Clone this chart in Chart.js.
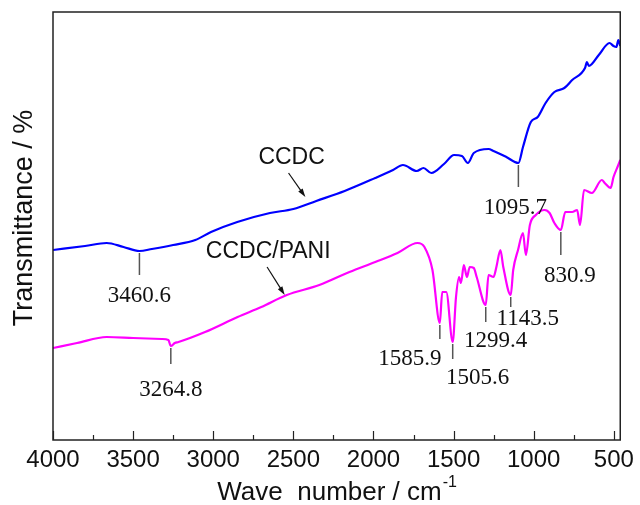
<!DOCTYPE html>
<html>
<head>
<meta charset="utf-8">
<script src="https://cdn.jsdelivr.net/npm/chart.js@4.4.0/dist/chart.umd.min.js"></script>
<style>
  body { margin: 0; background: #fff; }
</style>
</head>
<body>
<canvas id="ftir-chart" width="640" height="505"></canvas>
<script>
// spectra (wave number, transmittance in arbitrary units)
const ccdcWave = [4000, 3800, 3665, 3560, 3460.6, 3383, 3250, 3112, 3014, 2850, 2646, 2500, 2357, 2180, 1989, 1878, 1816, 1730, 1688, 1639, 1560, 1497, 1448, 1411, 1374, 1282, 1251, 1171, 1095.7, 1067, 1018, 975, 926, 871, 809, 760, 680, 668, 656, 594, 527, 502, 484, 472, 460];
const ccdcT = [190, 194, 197, 193, 189, 191, 195, 200, 208, 218, 227, 231, 239, 249, 262, 270, 275, 269, 272, 267, 276, 285, 284, 277, 287, 291, 289, 283, 277, 293, 318, 323, 337, 348, 352, 360, 372, 378, 374, 385, 397, 394, 393, 400, 394];

const paniWave = [4000, 3850, 3665, 3500, 3321, 3280, 3264.8, 3240, 3217, 3051, 2848, 2700, 2541, 2338, 2150, 1989, 1850, 1725, 1682, 1632, 1585.9, 1571, 1546, 1505.6, 1485, 1466, 1454, 1436, 1417, 1399, 1374, 1356, 1299.4, 1282, 1251, 1233, 1208, 1190, 1143.5, 1128, 1098, 1067, 1049, 1024, 987, 932, 901, 871, 830.9, 803, 760, 729, 711, 686, 637, 575, 557, 520, 502, 472, 460];
const paniT = [92, 97, 103, 102, 101, 100, 94, 97, 98, 108, 123, 133, 145, 155, 168, 178, 187, 197, 193, 170, 117, 148, 148, 98, 143, 163, 157, 175, 163, 173, 172, 163, 135, 165, 163, 173, 190, 173, 145, 170, 190, 207, 185, 215, 225, 230, 227, 217, 210, 228, 228, 230, 215, 250, 247, 260, 257, 252, 263, 275, 280];

const seriesNames = ['CCDC', 'CCDC/PANI'];
const majorTicks = [4000, 3500, 3000, 2500, 2000, 1500, 1000, 500];
const minorTicks = [3750, 3250, 2750, 2250, 1750, 1250, 750];

// marked peaks: which series, wave number, label
const peakSeries = [0, 1, 0, 1, 1, 1, 1, 1];
const peakWaves = [3460.6, 3264.8, 1095.7, 830.9, 1143.5, 1299.4, 1585.9, 1505.6];
const peakTexts = ['3460.6', '3264.8', '1095.7', '830.9', '1143.5', '1299.4', '1585.9', '1505.6'];

// leader length, label shift, label baseline below leader (px)
const peakLayout = [
  { len: 22, dx: 0, dy: 27 },
  { len: 16, dx: 0, dy: 32 },
  { len: 22, dx: -3, dy: 27 },
  { len: 23, dx: 9, dy: 27 },
  { len: 10, dx: 17, dy: 18 },
  { len: 15, dx: 10, dy: 25 },
  { len: 14, dx: -30, dy: 26 },
  { len: 15, dx: 25, dy: 25 }
];

// series name positions and arrows, in data units
const nameLayout = [
  { text: [2511, 282], from: [2530, 267], to: [2425, 243] },
  { text: [2657, 188], from: [2664, 173], to: [2554, 145] }
];

const SANS = '"Liberation Sans", Arial, sans-serif';
const SERIF = '"Liberation Serif", "Times New Roman", serif';

function toPoints(xs, ys) {
  return xs.map((x, i) => ({ x: x, y: ys[i] }));
}

const seriesWave = [ccdcWave, paniWave];
const seriesT = [ccdcT, paniT];

function drawArrow(ctx, x1, y1, x2, y2) {
  const ang = Math.atan2(y2 - y1, x2 - x1);
  const head = 9;
  ctx.beginPath();
  ctx.moveTo(x1, y1);
  ctx.lineTo(x2 - Math.cos(ang) * head * 0.8, y2 - Math.sin(ang) * head * 0.8);
  ctx.stroke();
  ctx.beginPath();
  ctx.moveTo(x2, y2);
  ctx.lineTo(x2 - head * Math.cos(ang - 0.3), y2 - head * Math.sin(ang - 0.3));
  ctx.lineTo(x2 - head * Math.cos(ang + 0.3), y2 - head * Math.sin(ang + 0.3));
  ctx.closePath();
  ctx.fill();
}

const decorations = {
  id: 'decorations',
  afterDraw(chart) {
    const ctx = chart.ctx;
    const area = chart.chartArea;
    const xs = chart.scales.x;
    const ys = chart.scales.y;
    ctx.save();

    // frame
    ctx.strokeStyle = '#222';
    ctx.lineWidth = 1.5;
    ctx.strokeRect(area.left, area.top, area.right - area.left, area.bottom - area.top);

    // inward ticks
    ctx.lineWidth = 1.2;
    ctx.beginPath();
    majorTicks.forEach(v => {
      const px = Math.round(xs.getPixelForValue(v)) + 0.5;
      ctx.moveTo(px, area.bottom);
      ctx.lineTo(px, area.bottom - 9);
    });
    minorTicks.forEach(v => {
      const px = Math.round(xs.getPixelForValue(v)) + 0.5;
      ctx.moveTo(px, area.bottom);
      ctx.lineTo(px, area.bottom - 5);
    });
    ctx.stroke();

    // peak leaders and labels
    ctx.font = '23px ' + SERIF;
    ctx.textAlign = 'center';
    ctx.textBaseline = 'alphabetic';
    peakWaves.forEach((w, i) => {
      const s = peakSeries[i];
      const idx = seriesWave[s].indexOf(w);
      const px = xs.getPixelForValue(w);
      const py = ys.getPixelForValue(seriesT[s][idx]) + 2;
      const lay = peakLayout[i];
      ctx.strokeStyle = '#555';
      ctx.lineWidth = 1.5;
      ctx.beginPath();
      ctx.moveTo(px, py);
      ctx.lineTo(px, py + lay.len);
      ctx.stroke();
      ctx.fillStyle = '#111';
      ctx.fillText(peakTexts[i], px + lay.dx, py + lay.len + lay.dy);
    });

    // series names with arrows
    ctx.font = '23px ' + SANS;
    ctx.textBaseline = 'middle';
    ctx.strokeStyle = '#111';
    ctx.fillStyle = '#111';
    ctx.lineWidth = 1.2;
    nameLayout.forEach((n, i) => {
      ctx.fillText(seriesNames[i], xs.getPixelForValue(n.text[0]), ys.getPixelForValue(n.text[1]));
      drawArrow(ctx,
        xs.getPixelForValue(n.from[0]), ys.getPixelForValue(n.from[1]),
        xs.getPixelForValue(n.to[0]), ys.getPixelForValue(n.to[1]));
    });

    // axis titles
    ctx.fillStyle = '#111';
    ctx.font = '26px ' + SANS;
    const main = 'Wave  number / cm';
    const wMain = ctx.measureText(main).width;
    ctx.font = '16px ' + SANS;
    const wSup = ctx.measureText('-1').width;
    const x0 = (area.left + area.right) / 2 - (wMain + wSup) / 2;
    ctx.textAlign = 'left';
    ctx.textBaseline = 'alphabetic';
    ctx.font = '26px ' + SANS;
    ctx.fillText(main, x0, 500);
    ctx.font = '16px ' + SANS;
    ctx.fillText('-1', x0 + wMain + 1, 487);

    ctx.translate(25, 218);
    ctx.rotate(-Math.PI / 2);
    ctx.font = '27px ' + SANS;
    ctx.textAlign = 'center';
    ctx.textBaseline = 'middle';
    ctx.fillText('Transmittance / %', 0, 0);
    ctx.restore();
  }
};

new Chart(document.getElementById('ftir-chart'), {
  type: 'line',
  data: {
    datasets: [{
      label: seriesNames[0],
      data: toPoints(ccdcWave, ccdcT),
      borderColor: '#0000ff',
      borderWidth: 2.2,
      pointRadius: 0,
      cubicInterpolationMode: 'monotone',
      borderJoinStyle: 'round'
    }, {
      label: seriesNames[1],
      data: toPoints(paniWave, paniT),
      borderColor: '#ff00ff',
      borderWidth: 2.2,
      pointRadius: 0,
      cubicInterpolationMode: 'monotone',
      borderJoinStyle: 'round'
    }]
  },
  options: {
    responsive: false,
    animation: false,
    layout: {
      autoPadding: false,
      padding: { top: 12, right: 12, left: 0, bottom: 0 }
    },
    plugins: {
      legend: { display: false },
      tooltip: { enabled: false }
    },
    scales: {
      x: {
        type: 'linear',
        reverse: true,
        min: 460,
        max: 4000,
        afterBuildTicks: s => { s.ticks = majorTicks.map(v => ({ value: v })); },
        afterFit: s => { s.height = 65; },
        grid: { display: false, drawTicks: false },
        border: { display: false },
        ticks: {
          color: '#111',
          font: { family: SANS, size: 24 },
          padding: 6,
          maxRotation: 0,
          autoSkip: false,
          callback: v => String(v)
        }
      },
      y: {
        min: 0,
        max: 428,
        afterFit: s => { s.width = 53; },
        ticks: { display: false },
        grid: { display: false, drawTicks: false },
        border: { display: false }
      }
    }
  },
  plugins: [decorations]
});
</script>
</body>
</html>
